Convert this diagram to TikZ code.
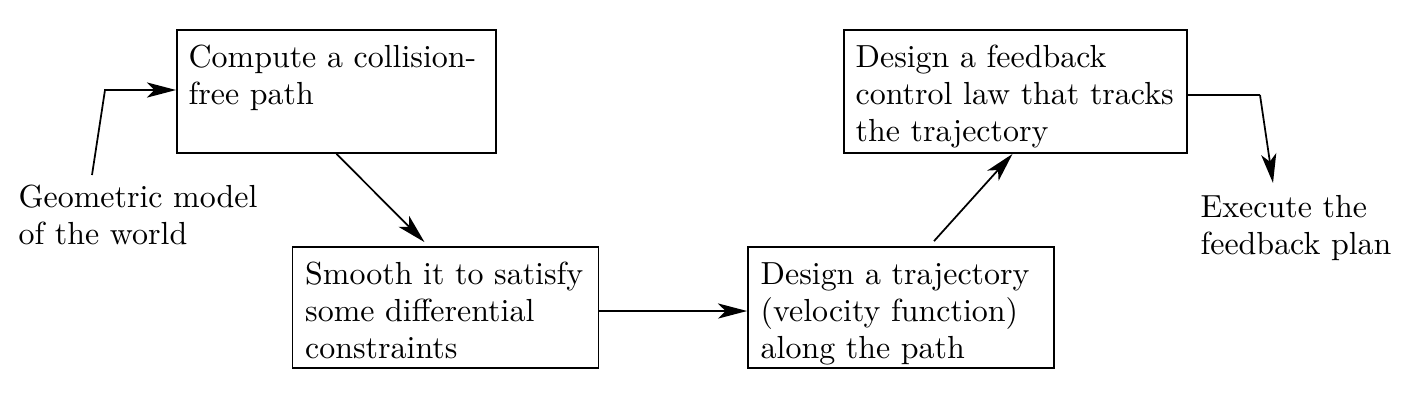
\documentclass[tikz,border=0pt]{standalone}
\usetikzlibrary{arrows.meta,calc}
\begin{document}
\begin{tikzpicture}[x=0.3428pt,y=-0.3428pt,
  font=\fontsize{10.95}{12.6}\selectfont,
  box/.style={draw,line width=0.6pt,inner sep=0pt,anchor=center},
  lbl/.style={inner sep=0pt,align=left,anchor=north west},
  arr/.style={line width=0.6pt,-{Stealth[length=10pt,width=5.2pt,inset=2.6pt]}},
  ln/.style={line width=0.6pt}]
\useasboundingbox (0,0) rectangle (1417,404);
\node[box,minimum width=109.4pt,minimum height=42.2pt] (b1) at (336.5,91.5) {};
\node[box,minimum width=104.9pt,minimum height=41.5pt] (b2) at (445.5,307.5) {};
\node[box,minimum width=104.9pt,minimum height=41.5pt] (b3) at (901,307.5) {};
\node[box,minimum width=117.6pt,minimum height=42.2pt] (b4) at (1015.5,91.5) {};
\node[lbl] (t1) at ($(b1.north west)+(12,12.3)$) {\strut Compute a collision-\\free path};
\node[lbl] (t2) at ($(b2.north west)+(13,12.3)$) {\strut Smooth it to satisfy\\some differential\\constraints};
\node[lbl] (t3) at ($(b3.north west)+(13,12.3)$) {\strut Design a trajectory\\(velocity function)\\along the path};
\node[lbl] (t4) at ($(b4.north west)+(12,12.3)$) {\strut Design a feedback\\control law that tracks\\the trajectory};
\node[lbl] (gm) at (18,181) {\strut Geometric model\\of the world};
\node[lbl] (ex) at (1200,191) {\strut Execute the\\feedback plan};
\coordinate (s0) at (92,175);
\coordinate (s1) at (105,90);
\coordinate (e1) at (1260,95);
\coordinate (e2) at (1273,183);
\coordinate (m1) at (600,311);
\draw[arr] (s0) -- (s1) -- (s1 -| b1.west);
\draw[arr] (b1.south) -- ($(b2.north)+(-21,-4)$);
\draw[arr] (m1 -| b2.east) -- (m1 -| b3.west);
\draw[arr] ($(b3.north)+(33,-5)$) -- ($(b4.south)+(-3,0)$);
\draw[ln] (e1 -| b4.east) -- (e1);
\draw[arr] (e1) -- (e2);
\end{tikzpicture}
\end{document}
